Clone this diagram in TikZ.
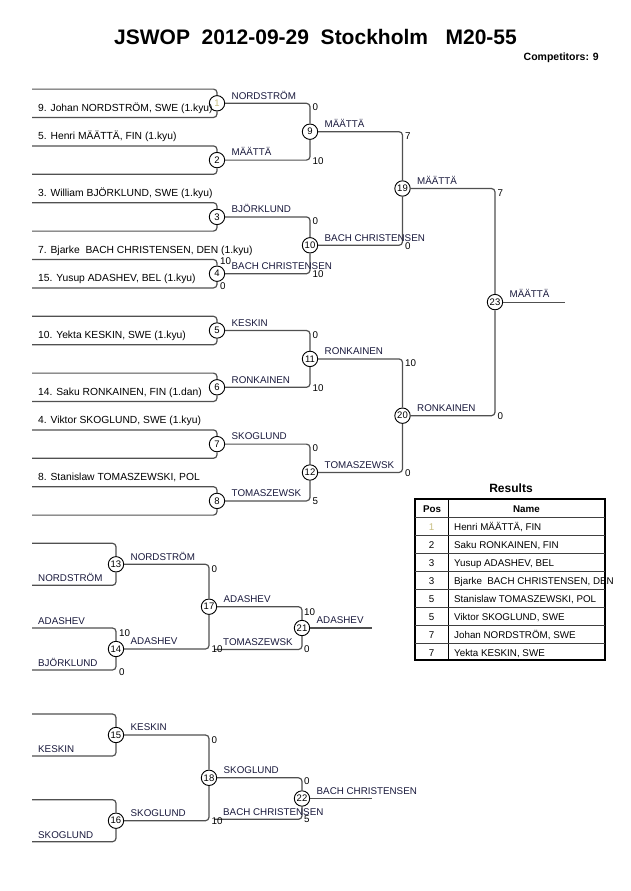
\documentclass[tikz,border=0pt]{standalone}
\usepackage{fontspec}
\setmainfont{Liberation Sans}
\usetikzlibrary{positioning}

\definecolor{lineg}{RGB}{80,80,80}
\definecolor{navyk}{RGB}{25,25,60}
\definecolor{faint}{RGB}{200,190,130}

\tikzset{
  brk/.style={draw=lineg, line width=1.2pt, rounded corners=3.5pt},
  mnum/.style={circle, draw=black, line width=0.9pt, fill=white, inner sep=0pt,
    minimum size=15.4pt, font=\fontsize{9.5}{10}\selectfont},
  entrant/.style={anchor=base west, inner sep=0pt, font=\fontsize{10.3}{12}\selectfont},
  winner/.style={anchor=base west, inner sep=0pt, text=navyk, font=\fontsize{9.8}{11}\selectfont},
  score/.style={anchor=base west, inner sep=0pt, font=\fontsize{9.8}{11}\selectfont},
  cell/.style={anchor=base, inner sep=0pt, font=\fontsize{9.8}{11}\selectfont},
}

\begin{document}
\begin{tikzpicture}[x=1pt, y=-1pt]
\useasboundingbox (0,0) rectangle (630,891);

% heading
\node[anchor=base, inner sep=0pt, font=\fontsize{21}{24}\selectfont\bfseries] (title) at (315.5,45)
  {JSWOP\ \ 2012-09-29\ \ Stockholm\ \ \ M20-55};
\node[anchor=base east, inner sep=0pt, font=\fontsize{10.5}{12}\selectfont\bfseries] (comp) at (599,60.7)
  {Competitors: 9};

% main pool, first round
\foreach \k/\y in {1/103.3, 2/160.1, 3/216.9, 4/273.7, 5/330.5, 6/387.3, 7/444.1, 8/500.9}{
  \node[mnum] (m\k) at (217,\y) {\ifnum\k=1 \textcolor{faint}{1}\else\k\fi};
  \coordinate (t\k) at (32,\y-14.2);
  \coordinate (b\k) at (32,\y+14.2);
  \draw[brk] (t\k) -| (m\k);
  \draw[brk] (b\k) -| (m\k);
}

% later rounds
\foreach \k/\x/\y/\a/\b in {9/310/131.7/1/2, 10/310/245.3/3/4, 11/310/358.9/5/6, 12/310/472.5/7/8,
    19/402.5/188.5/9/10, 20/402.5/415.7/11/12, 23/495/302.1/19/20}{
  \node[mnum] (m\k) at (\x,\y) {\k};
  \draw[brk] (m\a) -| (m\k);
  \draw[brk] (m\b) -| (m\k);
}
\coordinate (f23) at (565,302.1);
\draw[brk] (m23) -- (f23);

% repechage
\foreach \k/\y in {13/564.3, 14/649, 15/735, 16/820.7}{
  \node[mnum] (m\k) at (116,\y) {\k};
  \coordinate (t\k) at (32,\y-21);
  \coordinate (b\k) at (32,\y+21);
  \draw[brk] (t\k) -| (m\k);
  \draw[brk] (b\k) -| (m\k);
}
\foreach \k/\y/\a/\b in {17/606.7/13/14, 18/777.8/15/16}{
  \node[mnum] (m\k) at (209,\y) {\k};
  \draw[brk] (m\a) -| (m\k);
  \draw[brk] (m\b) -| (m\k);
}
\node[mnum] (m21) at (302,628) {21};
\node[mnum] (m22) at (302,798.5) {22};
\coordinate (x21) at (214,649.5);
\coordinate (x22) at (214,819.3);
\coordinate (f21) at (372,628);
\coordinate (f22) at (372,798.5);
\draw[brk] (m17) -| (m21);
\draw[brk] (x21) -| (m21);
\draw[brk] (m21) -- (f21);
\draw[brk] (m18) -| (m22);
\draw[brk] (x22) -| (m22);
\draw[brk] (m22) -- (f22);

% competitors
\foreach \i/\y/\t in {1/111.5/{9. Johan NORDSTRÖM, SWE (1.kyu)},
    2/139.9/{5. Henri MÄÄTTÄ, FIN (1.kyu)},
    3/196.7/{3. William BJÖRKLUND, SWE (1.kyu)},
    4/253.5/{7. Bjarke\ \ BACH CHRISTENSEN, DEN (1.kyu)},
    5/281.9/{15. Yusup ADASHEV, BEL (1.kyu)},
    6/338.7/{10. Yekta KESKIN, SWE (1.kyu)},
    7/395.5/{14. Saku RONKAINEN, FIN (1.dan)},
    8/423.9/{4. Viktor SKOGLUND, SWE (1.kyu)},
    9/480.7/{8. Stanislaw TOMASZEWSKI, POL}}
  \node[entrant] (e\i) at (38,\y) {\t};
\foreach \i/\y/\t in {1/581.3/NORDSTRÖM, 2/624/ADASHEV, 3/666/BJÖRKLUND, 4/752/KESKIN, 5/838/SKOGLUND}
  \node[winner] (r\i) at (38,\y) {\t};

% winners above the lines
\foreach \k/\t in {1/NORDSTRÖM, 2/MÄÄTTÄ, 3/BJÖRKLUND, 4/BACH CHRISTENSEN, 5/KESKIN,
    6/RONKAINEN, 7/SKOGLUND, 8/TOMASZEWSK, 9/MÄÄTTÄ, 10/BACH CHRISTENSEN, 11/RONKAINEN,
    12/TOMASZEWSK, 19/MÄÄTTÄ, 20/RONKAINEN, 23/MÄÄTTÄ, 13/NORDSTRÖM, 14/ADASHEV,
    15/KESKIN, 16/SKOGLUND, 17/ADASHEV, 18/SKOGLUND, 21/ADASHEV, 22/BACH CHRISTENSEN}
  \path (m\k.center) ++(14.5,-4.3) node[winner] (w\k) {\t};
\node[winner] (l21) at (223,645.5) {TOMASZEWSK};
\node[winner] (l22) at (223,815.3) {BACH CHRISTENSEN};

% scores
\foreach \n/\x/\y/\s in {4a/220/264/10, 4b/220/289.3/0,
    9a/312.5/110.8/0, 9b/312.5/164.1/10, 10a/312.5/224.4/0, 10b/312.5/277.7/10,
    11a/312.5/338/0, 11b/312.5/391.3/10, 12a/312.5/451.6/0, 12b/312.5/504.9/5,
    19a/405/139.2/7, 19b/405/249.3/0, 20a/405/366.4/10, 20b/405/476.5/0,
    23a/497.5/196/7, 23b/497.5/419.7/0,
    14a/119/636/10, 14b/119/675/0, 17a/211.5/572.7/0, 17b/211.5/652.7/10,
    21a/304/615.5/10, 21b/304/652.5/0, 18a/211.5/743.3/0, 18b/211.5/824/10,
    22a/304/784.3/0, 22b/304/822.7/5}
  \node[score] (s\n) at (\x,\y) {\s};

% results table
\node[anchor=base, inner sep=0pt, font=\fontsize{12}{14}\selectfont\bfseries] (restitle) at (511,492.7) {Results};
\draw[line width=2pt] (415,499) rectangle (605,660);
\draw[line width=1pt] (448,499) -- (448,660);
\foreach \yy in {517,535,...,643}
  \draw[line width=1pt, black!75] (415,\yy) -- (605,\yy);
\node[cell, font=\fontsize{9.8}{11}\selectfont\bfseries] (hpos) at (432,512.3) {Pos};
\node[cell, font=\fontsize{9.8}{11}\selectfont\bfseries] (hname) at (526.5,512.3) {Name};
\foreach \i/\p/\t in {1/{\textcolor{faint}{1}}/{Henri MÄÄTTÄ, FIN}, 2/2/{Saku RONKAINEN, FIN},
    3/3/{Yusup ADASHEV, BEL}, 4/3/{Bjarke\ \ BACH CHRISTENSEN, DEN},
    5/5/{Stanislaw TOMASZEWSKI, POL}, 6/5/{Viktor SKOGLUND, SWE},
    7/7/{Johan NORDSTRÖM, SWE}, 8/7/{Yekta KESKIN, SWE}}{
  \node[cell] (p\i) at (431.5,512+18*\i) {\p};
  \node[cell, anchor=base west] (n\i) at (454,512+18*\i) {\t};
}
\end{tikzpicture}
\end{document}
